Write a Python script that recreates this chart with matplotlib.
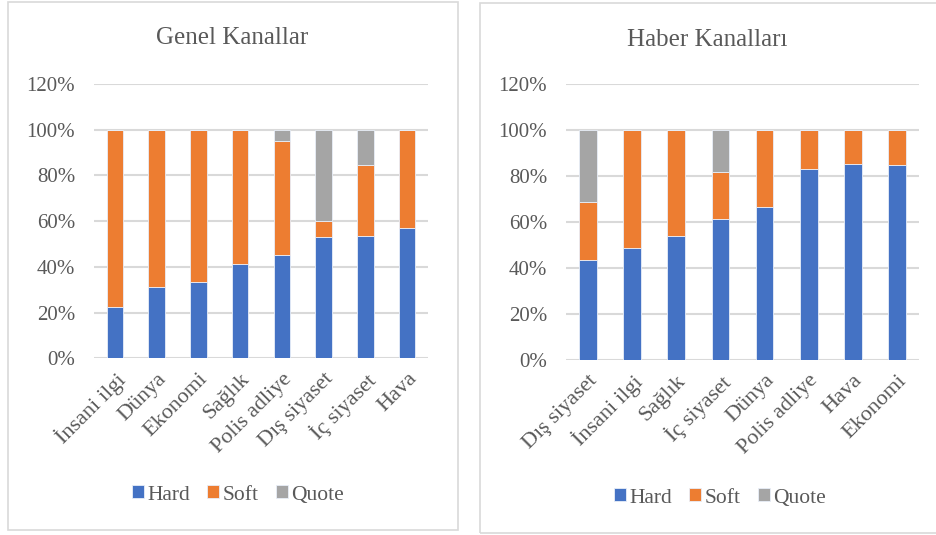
import matplotlib
matplotlib.use("Agg")
import matplotlib.pyplot as plt
from matplotlib.patches import Rectangle
from matplotlib.ticker import FuncFormatter, MultipleLocator
from matplotlib.font_manager import FontProperties
import numpy as np

plt.rcParams['font.family'] = ['Liberation Serif', 'DejaVu Serif']

# ---- data ----
genel_categories = ["İnsani ilgi", "Dünya", "Ekonomi", "Sağlık", "Polis adliye",
                    "Dış siyaset", "İç siyaset", "Hava"]
genel_hard = [22.6, 31.0, 33.4, 41.4, 45.3, 53.2, 53.6, 57.1]
genel_soft = [77.4, 69.0, 66.6, 58.6, 49.9, 6.7, 31.1, 42.9]
genel_quote = [0.0, 0.0, 0.0, 0.0, 4.8, 40.1, 15.3, 0.0]

haber_categories = ["Dış siyaset", "İnsani ilgi", "Sağlık", "İç siyaset", "Dünya",
                    "Polis adliye", "Hava", "Ekonomi"]
haber_hard = [43.3, 48.8, 53.8, 61.4, 66.5, 82.9, 85.2, 84.9]
haber_soft = [25.3, 51.2, 46.2, 20.2, 33.5, 17.1, 14.8, 15.1]
haber_quote = [31.4, 0.0, 0.0, 18.4, 0.0, 0.0, 0.0, 0.0]

series_names = ["Hard", "Soft", "Quote"]
colors = ["#4472C4", "#ED7D31", "#A5A5A5"]
titles = ["Genel Kanallar", "Haber Kanalları"]

W, H = 936, 535
fig = plt.figure(figsize=(W / 100, H / 100), dpi=100)
TXT = "#595959"

def px_rect(x0, y0, x1, y1):
    return [x0 / W, 1 - y1 / H, (x1 - x0) / W, (y1 - y0) / H]

# panel borders
for (x0, y0, x1, y1) in [(8, 1.5, 458, 530), (480, 3, 940, 532.5)]:
    r = Rectangle((x0 / W, 1 - y1 / H), (x1 - x0) / W, (y1 - y0) / H,
                  transform=fig.transFigure, fill=False, edgecolor="#D9D9D9",
                  linewidth=1.2, zorder=0)
    fig.add_artist(r)

axes_px = [(94, 84, 428, 358.3), (566, 84, 919, 360)]
title_px = [(232, 38), (707, 40)]
legend_px = [(238, 495), (720, 498)]
datasets = [(genel_categories, genel_hard, genel_soft, genel_quote),
            (haber_categories, haber_hard, haber_soft, haber_quote)]

for i in range(2):
    cats, hard, soft, quote = datasets[i]
    ax = fig.add_axes(px_rect(*axes_px[i]))
    x = np.arange(len(cats))
    bottom = np.zeros(len(cats))
    handles = []
    for vals, name, c in zip([hard, soft, quote], series_names, colors):
        b = ax.bar(x, vals, 0.4, bottom=bottom, color=c, label=name,
                   edgecolor="#E8EEF8", linewidth=0.6, zorder=3)
        handles.append(b)
        bottom = bottom + np.array(vals)
    ax.set_xlim(-0.5, len(cats) - 0.5)
    ax.set_ylim(0, 120)
    ax.yaxis.set_major_locator(MultipleLocator(20))
    ax.yaxis.set_major_formatter(FuncFormatter(lambda v, p: f"{int(round(v))}%"))
    ax.grid(axis="y", color="#D9D9D9", linewidth=1.5, zorder=0)
    ax.set_axisbelow(True)
    for s in ax.spines.values():
        s.set_visible(False)
    ax.tick_params(axis="both", length=0, colors=TXT)
    ax.tick_params(axis="y", pad=13.5, labelsize=15)
    ax.tick_params(axis="x", pad=8, labelsize=16)
    ax.set_xticks(x)
    ax.set_xticklabels(cats, rotation=45, ha="right", va="top",
                       rotation_mode="anchor")
    for t in ax.get_xticklabels():
        t.set_color(TXT)
    tx, ty = title_px[i]
    fig.text(tx / W, 1 - ty / H, titles[i], ha="center", va="center",
             fontsize=18, color=TXT)
    lx, ly = legend_px[i]
    leg = fig.legend(handles, series_names, loc="center",
                     bbox_to_anchor=(lx / W, 1 - ly / H), ncol=3, frameon=False,
                     prop=FontProperties(family=['Liberation Serif', 'DejaVu Serif'], size=15.5),
                     handlelength=0.55, handleheight=0.55,
                     handletextpad=0.15, columnspacing=0.8)
    for t in leg.get_texts():
        t.set_color(TXT)

fig.savefig("out.png", dpi=100, facecolor="white")
